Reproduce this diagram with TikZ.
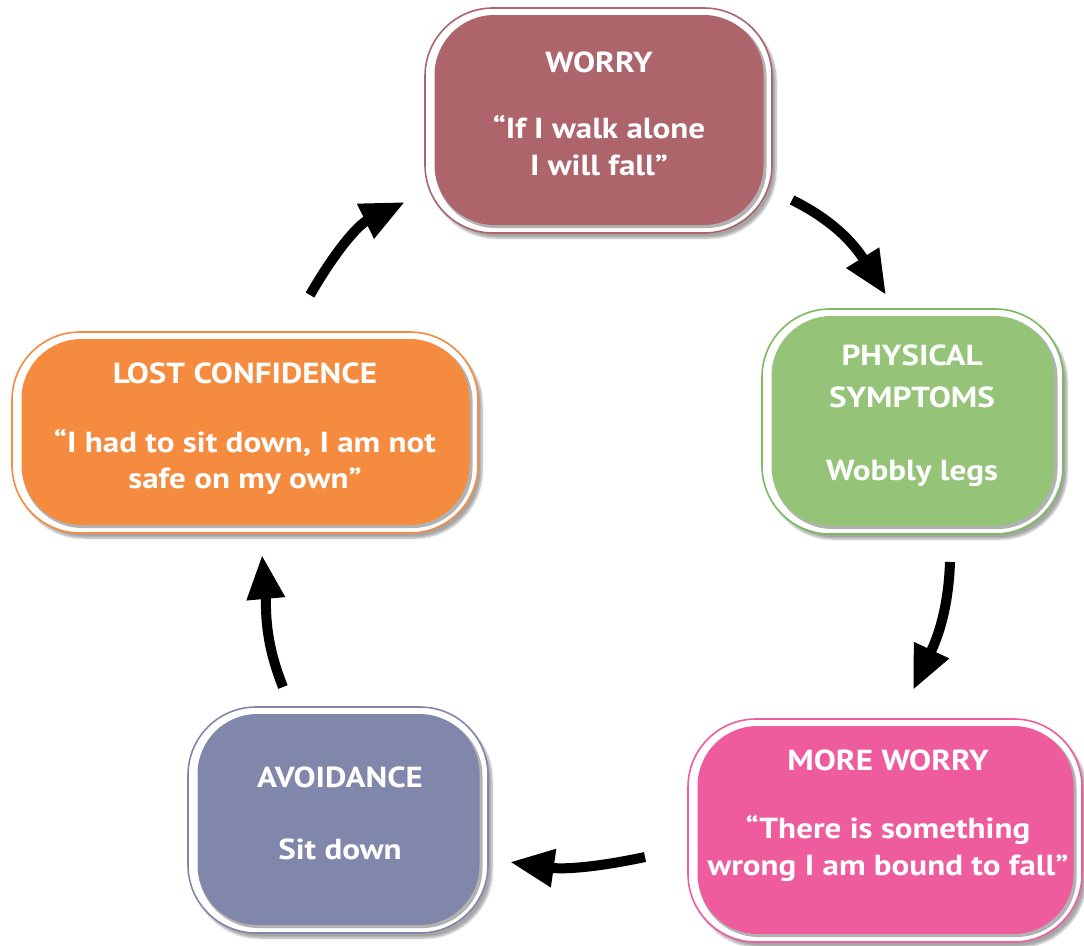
\documentclass[tikz,border=0pt]{standalone}
\usepackage{fontspec}
\setmainfont{PT Sans}[FakeStretch=1.14]
\usetikzlibrary{arrows.meta,shadows.blur}
\definecolor{cWorry}{RGB}{173,100,107}
\definecolor{cPhys}{RGB}{149,196,121}
\definecolor{cPhysB}{RGB}{125,185,95}
\definecolor{cMore}{RGB}{238,92,158}
\definecolor{cAvoid}{RGB}{129,135,171}
\definecolor{cLost}{RGB}{245,139,63}
\tikzset{
  outerbox/.style={draw=#1, line width=1.6pt, fill=white, rounded corners=68pt,
    blur shadow={shadow xshift=4pt, shadow yshift=-5pt, shadow blur steps=8, shadow opacity=35}},
  innerbox/.style={fill=#1, draw=none, rounded corners=60pt},
  edgeshade/.style={fill=black!30, draw=none, rounded corners=60pt},
  txt/.style={text=white, font=\fontsize{29}{35}\selectfont\bfseries, anchor=base, inner sep=0pt},
  cyc/.style={line width=10pt, -{Triangle[length=44pt,width=36pt]}, black},
}
\begin{document}
\begin{tikzpicture}[x=1pt,y=1pt]
\useasboundingbox (0,0) rectangle (1084,-945);
% ---------------- boxes ----------------
\node[outerbox=cWorry, minimum width=347pt, minimum height=225pt] (worry) at (598.5,-120.5) {};
\node[edgeshade, minimum width=331pt, minimum height=211pt] (worrysh) at (601,-122.5) {};
\node[innerbox=cWorry, minimum width=329pt, minimum height=210pt] (worryin) at (599,-120) {};
\node[outerbox=cPhysB, minimum width=301pt, minimum height=225pt] (phys) at (912.5,-421.5) {};
\node[edgeshade, minimum width=285pt, minimum height=211pt] (physsh) at (915,-423.5) {};
\node[innerbox=cPhys, minimum width=283pt, minimum height=210pt] (physin) at (913,-421) {};
\node[outerbox=cMore, minimum width=394pt, minimum height=223pt] (more) at (885,-830.5) {};
\node[edgeshade, minimum width=378pt, minimum height=209pt] (moresh) at (887.5,-832.5) {};
\node[innerbox=cMore, minimum width=376pt, minimum height=208pt] (morein) at (885.5,-830) {};
\node[outerbox=cAvoid, minimum width=300pt, minimum height=226pt] (avoid) at (338,-820) {};
\node[edgeshade, minimum width=284pt, minimum height=212pt] (avoidsh) at (340.5,-822) {};
\node[innerbox=cAvoid, minimum width=282pt, minimum height=211pt] (avoidin) at (338.5,-819.5) {};
\node[outerbox=cLost, minimum width=466pt, minimum height=201pt] (lost) at (245,-432.5) {};
\node[edgeshade, minimum width=450pt, minimum height=187pt] (lostsh) at (247.5,-434.5) {};
\node[innerbox=cLost, minimum width=448pt, minimum height=186pt] (lostin) at (245.5,-432) {};
% ---------------- texts ----------------
\node[txt] (worryT)  at (599,-72)  {WORRY};
\node[txt] (worryB1) at (599,-138) {“If I walk alone};
\node[txt] (worryB2) at (599,-175) {I will fall”};
\node[txt] (physT1)  at (912,-365) {PHYSICAL};
\node[txt] (physT2)  at (912,-407) {SYMPTOMS};
\node[txt] (physB)   at (912,-480) {Wobbly legs};
\node[txt] (moreT)   at (888,-770) {MORE WORRY};
\node[txt] (moreB1)  at (888,-838) {“There is something};
\node[txt] (moreB2)  at (888,-875) {wrong I am bound to fall”};
\node[txt] (avoidT)  at (340,-787) {AVOIDANCE};
\node[txt] (avoidB)  at (340,-859) {Sit down};
\node[txt] (lostT)   at (245,-383) {LOST CONFIDENCE};
\node[txt] (lostB1)  at (245,-452) {“I had to sit down, I am not};
\node[txt] (lostB2)  at (245,-488) {safe on my own”};
% ---------------- arrows ----------------
\coordinate (a1s) at (792,-200); \coordinate (a1e) at (886,-295);
\coordinate (a2s) at (950,-562); \coordinate (a2e) at (913,-690);
\coordinate (a3s) at (645,-857); \coordinate (a3e) at (510,-862);
\coordinate (a4s) at (283,-687); \coordinate (a4e) at (262,-555);
\coordinate (a5s) at (310,-295); \coordinate (a5e) at (405,-202);
\draw[cyc] (a1s) to[out=-26,in=122] (a1e);
\draw[cyc] (a2s) to[out=-92,in=65] (a2e);
\draw[cyc] (a3s) to[out=192,in=-8] (a3e);
\draw[cyc] (a4s) to[out=112,in=-85] (a4e);
\draw[cyc] (a5s) to[out=60,in=206] (a5e);
\end{tikzpicture}
\end{document}
